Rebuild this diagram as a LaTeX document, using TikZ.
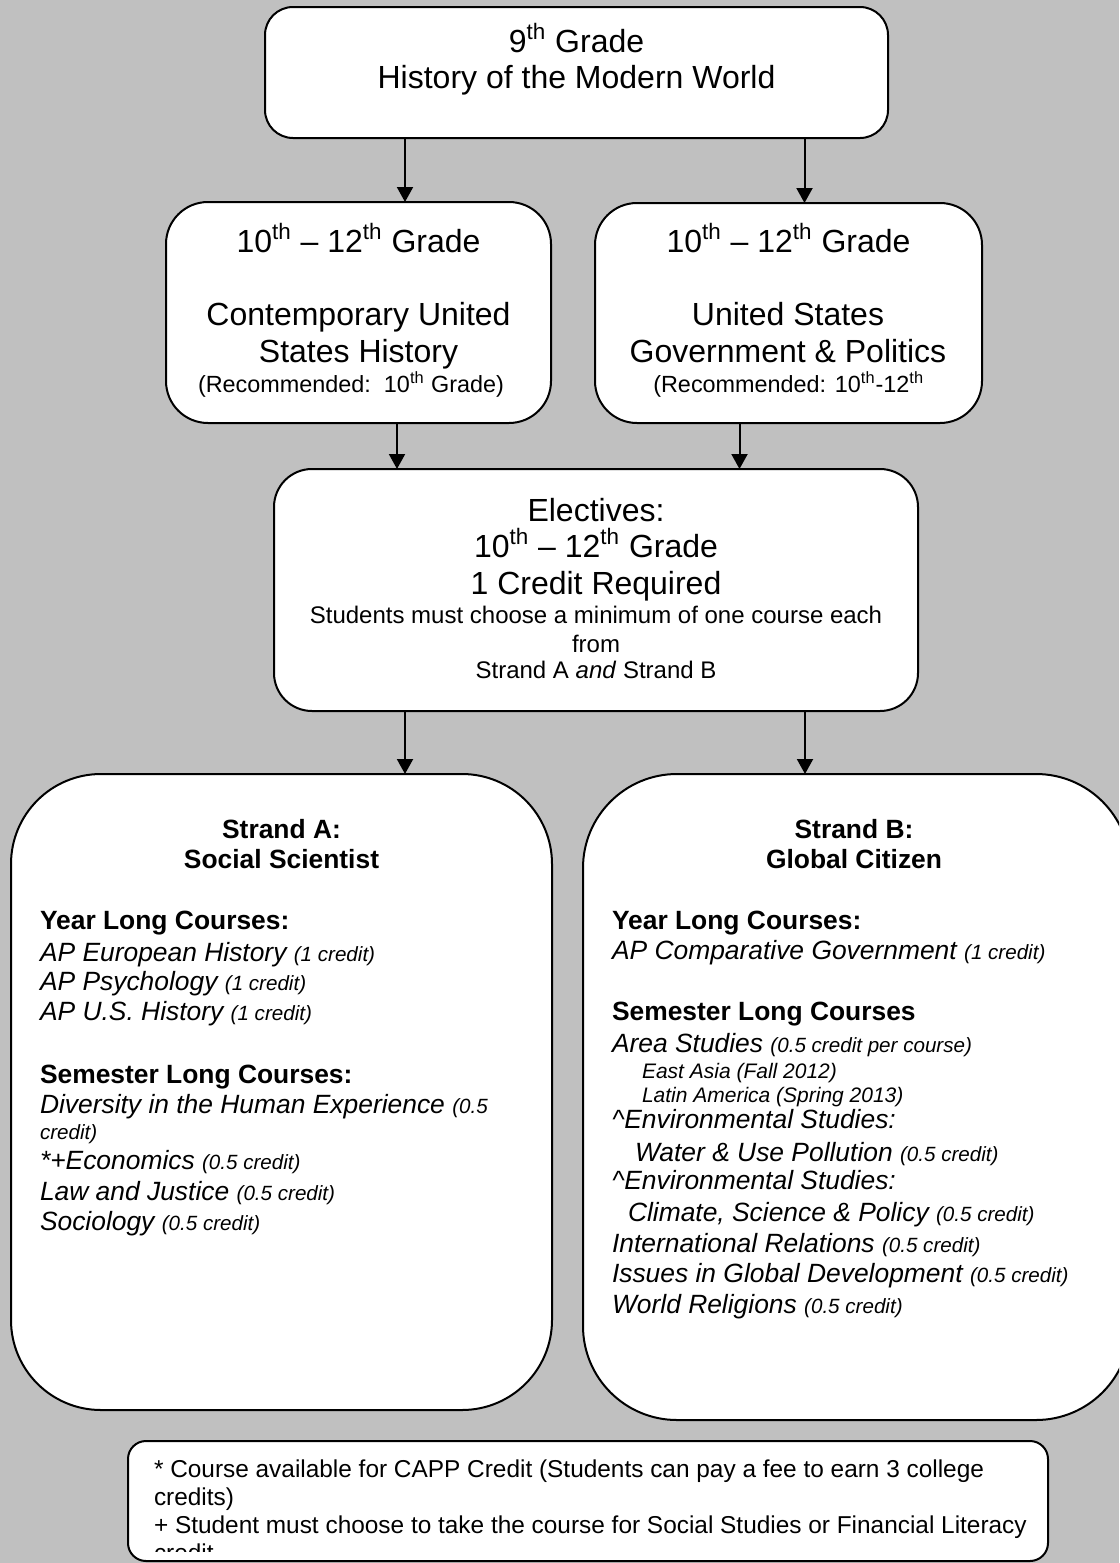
\documentclass[tikz,border=0pt]{standalone}
\usepackage{fontspec}
\setmainfont{Liberation Sans}
\usetikzlibrary{arrows.meta}
\definecolor{bg}{HTML}{C0C0C0}
\newcommand\fbig{\fontsize{16pt}{19pt}\selectfont}
\newcommand\frec{\fontsize{11.7pt}{14pt}\selectfont}
\newcommand\fel{\fontsize{12pt}{14pt}\selectfont}
\newcommand\fmed{\fontsize{13.2pt}{16pt}\selectfont}
\newcommand\fsm{\fontsize{10.3pt}{12pt}\selectfont}
\newcommand\fsub{\fontsize{10.5pt}{12pt}\selectfont}
\newcommand\ffoot{\fontsize{12.2pt}{14pt}\selectfont}
\newcommand\crs[2]{{\fmed\itshape #1 }{\fsm\itshape (#2)}}
\newcommand\thsup{\textsuperscript{th}}
\begin{document}
\begin{tikzpicture}[x=0.5pt,y=-0.5pt,
  box/.style={draw=black, line width=1pt, fill=white, rectangle, inner sep=0pt, outer sep=0pt},
  arr/.style={line width=1pt, -{Triangle[width=8pt,length=7.5pt]}},
  ct/.style={anchor=base, inner sep=0pt, outer sep=0pt},
  lt/.style={anchor=base west, inner sep=0pt, outer sep=0pt}]
\useasboundingbox (0,0) rectangle (1119,1563);
\clip (0,0) rectangle (1119,1563);
\fill[bg] (0,0) rectangle (1119,1563);

% boxes
\node[box, rounded corners=14pt, minimum width=311.5pt, minimum height=65.5pt] (top) at (576.5,72.5) {};
\node[box, rounded corners=21pt, minimum width=192.5pt, minimum height=110.5pt] (b2) at (358.5,312.5) {};
\node[box, rounded corners=21pt, minimum width=193.5pt, minimum height=110pt] (b3) at (788.5,313) {};
\node[box, rounded corners=19pt, minimum width=322pt, minimum height=121pt] (elec) at (596,590) {};
\node[box, rounded corners=45pt, minimum width=270.5pt, minimum height=318pt] (sA) at (281.5,1092) {};
\node[box, rounded corners=47pt, minimum width=273.5pt, minimum height=323pt] (sB) at (856.5,1097) {};
\node[box, rounded corners=9pt, minimum width=460pt, minimum height=60pt] (foot) at (588,1501) {};

% top text
\node[ct] (t1) at (576.5,52) {\fbig 9\thsup{} Grade};
\node[ct] (t2) at (576.5,88) {\fbig History of the Modern World};

% box 2
\node[ct] (b2a) at (358.5,252) {\fbig 10\thsup{} – 12\thsup{} Grade};
\node[ct] (b2b) at (358.5,325) {\fbig Contemporary United};
\node[ct] (b2c) at (358.5,362.5) {\fbig States History};
\node[ct] (b2d) at (351,392) {\frec (Recommended:\ \ 10\thsup{} Grade)};

% box 3
\node[ct] (b3a) at (788.5,252) {\fbig 10\thsup{} – 12\thsup{} Grade};
\node[ct] (b3b) at (788,325) {\fbig United States};
\node[ct] (b3c) at (788,362.5) {\fbig Government \& Politics};
\node[ct] (b3d) at (788.7,392) {\frec (Recommended: 10\thsup-12\thsup};

% electives
\node[ct] (e1) at (596,521) {\fbig Electives:};
\node[ct] (e2) at (596,557) {\fbig 10\thsup{} – 12\thsup{} Grade};
\node[ct] (e3) at (596,594) {\fbig 1 Credit Required};
\node[ct] (e4) at (596,623) {\fel Students must choose a minimum of one course each};
\node[ct] (e5) at (596,652) {\fel from};
\node[ct] (e6) at (596,678) {\fel Strand A \textit{and} Strand B};

% strand A
\node[ct] (a1) at (281.5,838) {\fmed\bfseries Strand A:};
\node[ct] (a2) at (281.5,868) {\fmed\bfseries Social Scientist};
\node[lt] (a3) at (40,929) {\fmed\bfseries Year Long Courses:};
\node[lt] (a4) at (40,961) {\crs{AP European History}{1 credit}};
\node[lt] (a5) at (40,990) {\crs{AP Psychology}{1 credit}};
\node[lt] (a6) at (40,1020) {\crs{AP U.S. History}{1 credit}};
\node[lt] (a7) at (40,1083) {\fmed\bfseries Semester Long Courses:};
\node[lt] (a8) at (40,1113) {{\fmed\itshape Diversity in the Human Experience }{\fsm\itshape (0.5}};
\node[lt] (a9) at (40,1139) {\fsm\itshape credit)};
\node[lt] (a10) at (40,1169.5) {\crs{*+Economics}{0.5 credit}};
\node[lt] (a11) at (40,1200) {\crs{Law and Justice}{0.5 credit}};
\node[lt] (a12) at (40,1230.5) {\crs{Sociology}{0.5 credit}};

% strand B
\node[ct] (s1) at (854,838) {\fmed\bfseries Strand B:};
\node[ct] (s2) at (854,868) {\fmed\bfseries Global Citizen};
\node[lt] (s3) at (612,929) {\fmed\bfseries Year Long Courses:};
\node[lt] (s4) at (612,959.5) {\crs{AP Comparative Government}{1 credit}};
\node[lt] (s5) at (612,1020) {\fmed\bfseries Semester Long Courses};
\node[lt] (s6) at (612,1052.5) {\crs{Area Studies}{0.5 credit per course}};
\node[lt] (s7) at (642,1078.5) {\fsub\itshape East Asia (Fall 2012)};
\node[lt] (s8) at (642,1102.5) {\fsub\itshape Latin America (Spring 2013)};
\node[lt] (s9) at (612,1128.5) {\fmed\itshape \textasciicircum Environmental Studies:};
\node[lt] (s10) at (635,1161) {\crs{Water \& Use Pollution}{0.5 credit}};
\node[lt] (s11) at (612,1189) {\fmed\itshape \textasciicircum Environmental Studies:};
\node[lt] (s12) at (628,1221.5) {\crs{Climate, Science \& Policy}{0.5 credit}};
\node[lt] (s13) at (612,1252) {\crs{International Relations}{0.5 credit}};
\node[lt] (s14) at (612,1282.5) {\crs{Issues in Global Development}{0.5 credit}};
\node[lt] (s15) at (612,1313) {\crs{World Religions}{0.5 credit}};

% footer
\begin{scope}
\clip (128,1441) rectangle (1048,1551);
\node[lt] (f1) at (154,1477) {\ffoot * Course available for CAPP Credit (Students can pay a fee to earn 3 college};
\node[lt] (f2) at (154,1505) {\ffoot credits)};
\node[lt] (f3) at (154,1533) {\ffoot + Student must choose to take the course for Social Studies or Financial Literacy};
\node[lt] (f4) at (154,1561) {\ffoot credit};
\end{scope}

% connectors
\coordinate (x1) at (405,0);
\coordinate (x2) at (804.5,0);
\coordinate (x3) at (397,0);
\coordinate (x4) at (739.5,0);
\coordinate (x5) at (405,0);
\coordinate (x6) at (805,0);
\draw[arr] (top.south -| x1) -- (b2.north -| x1);
\draw[arr] (top.south -| x2) -- (b3.north -| x2);
\draw[arr] (b2.south -| x3) -- (elec.north -| x3);
\draw[arr] (b3.south -| x4) -- (elec.north -| x4);
\draw[arr] (elec.south -| x5) -- (sA.north -| x5);
\draw[arr] (elec.south -| x6) -- (sB.north -| x6);
\end{tikzpicture}
\end{document}
